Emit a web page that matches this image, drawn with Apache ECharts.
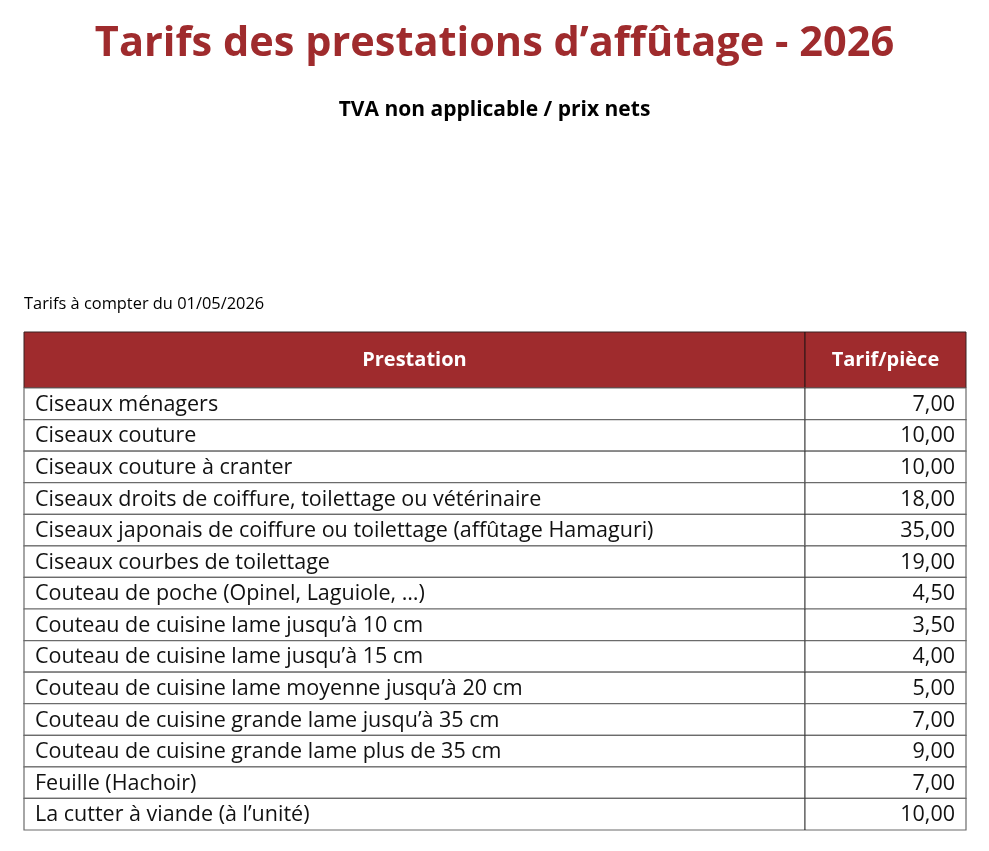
<!DOCTYPE html>
<html>
<head>
<meta charset="utf-8">
<title>Tarifs des prestations d'affûtage - 2026</title>
<script src="https://cdn.jsdelivr.net/npm/echarts@6/dist/echarts.min.js"></script>
<style>
  html, body { margin: 0; padding: 0; background: #fff; }
  #tarifs { width: 989px; height: 851px; }
</style>
</head>
<body>
<div id="tarifs"></div>
<script>
// données du tableau
var colonnes = ['Prestation', 'Tarif/pièce'];
var prestations = [
    'Ciseaux ménagers',
    'Ciseaux couture',
    'Ciseaux couture à cranter',
    'Ciseaux droits de coiffure, toilettage ou vétérinaire',
    'Ciseaux japonais de coiffure ou toilettage (affûtage Hamaguri)',
    'Ciseaux courbes de toilettage',
    'Couteau de poche (Opinel, Laguiole, …)',
    'Couteau de cuisine lame jusqu’à 10 cm',
    'Couteau de cuisine lame jusqu’à 15 cm',
    'Couteau de cuisine lame moyenne jusqu’à 20 cm',
    'Couteau de cuisine grande lame jusqu’à 35 cm',
    'Couteau de cuisine grande lame plus de 35 cm',
    'Feuille (Hachoir)',
    'La cutter à viande (à l’unité)'
];
var tarifs = [7, 10, 10, 18, 35, 19, 4.5, 3.5, 4, 5, 7, 9, 7, 10];

var FONT = '"Open Sans"';
var ROUGE = '#9f2b2d';
var SPLIT = 0.829; // limite entre les deux colonnes (part de la largeur)

function prix(v) {
    return v.toFixed(2).replace('.', ',');
}

function renderHeader(params, api) {
    var p0 = api.coord([0, 0]);
    var h = api.size([0, 1])[1];
    var x0 = api.coord([0, 0])[0];
    var xs = api.coord([SPLIT, 0])[0];
    var x1 = api.coord([1, 0])[0];
    var top = p0[1] - h / 2;
    return {
        type: 'group',
        children: [
            { type: 'rect', shape: { x: x0, y: top, width: x1 - x0, height: h },
              style: { fill: ROUGE, stroke: '#3a2222', lineWidth: 1 } },
            { type: 'line', shape: { x1: xs, y1: top, x2: xs, y2: top + h },
              style: { stroke: '#111', lineWidth: 1 } },
            { type: 'text', x: (x0 + xs) / 2, y: p0[1],
              style: { text: colonnes[0], fill: '#fff', font: 'bold 20px ' + FONT, align: 'center', verticalAlign: 'middle' } },
            { type: 'text', x: (xs + x1) / 2, y: p0[1],
              style: { text: colonnes[1], fill: '#fff', font: 'bold 20px ' + FONT, align: 'center', verticalAlign: 'middle' } }
        ]
    };
}

function renderRow(params, api) {
    var i = api.value(0);
    var c = api.coord([0, i]);
    var h = api.size([0, 1])[1];
    var x0 = c[0];
    var xs = api.coord([SPLIT, i])[0];
    var x1 = api.coord([1, i])[0];
    var top = c[1] - h / 2;
    return {
        type: 'group',
        children: [
            { type: 'rect', shape: { x: x0, y: top, width: x1 - x0, height: h },
              style: { fill: '#fff', stroke: '#6b6b6b', lineWidth: 1.2 } },
            { type: 'line', shape: { x1: xs, y1: top, x2: xs, y2: top + h },
              style: { stroke: '#111', lineWidth: 1 } },
            { type: 'text', x: x0 + 11, y: c[1] + 1,
              style: { text: prestations[i], fill: '#111', font: '21.5px ' + FONT, align: 'left', verticalAlign: 'middle' } },
            { type: 'text', x: x1 - 11, y: c[1] + 1,
              style: { text: prix(tarifs[i]), fill: '#111', font: '21.5px ' + FONT, align: 'right', verticalAlign: 'middle' } }
        ]
    };
}

var chart = echarts.init(document.getElementById('tarifs'));

var option = {
    backgroundColor: '#fff',
    animation: false,
    title: [
        { text: 'Tarifs des prestations d’affûtage - 2026', left: 'center', top: 18,
          textStyle: { color: ROUGE, fontFamily: FONT, fontWeight: 'bold', fontSize: 41.5 } },
        { text: 'TVA non applicable / prix nets', left: 'center', top: 95,
          textStyle: { color: '#000', fontFamily: FONT, fontWeight: 'bold', fontSize: 21 } },
        { text: 'Tarifs à compter du 01/05/2026', left: 19, top: 291,
          textStyle: { color: '#000', fontFamily: FONT, fontWeight: 'normal', fontSize: 16.4 } }
    ],
    grid: [
        { left: 24, right: 23, top: 332, height: 56 },
        { left: 24, right: 23, top: 388, bottom: 21 }
    ],
    xAxis: [
        { type: 'value', gridIndex: 0, min: 0, max: 1, show: false },
        { type: 'value', gridIndex: 1, min: 0, max: 1, show: false }
    ],
    yAxis: [
        { type: 'category', gridIndex: 0, data: ['entete'], show: false },
        { type: 'category', gridIndex: 1, data: prestations, inverse: true, show: false }
    ],
    series: [
        { type: 'custom', xAxisIndex: 0, yAxisIndex: 0, renderItem: renderHeader,
          data: [[0]], silent: true },
        { type: 'custom', xAxisIndex: 1, yAxisIndex: 1, renderItem: renderRow,
          data: prestations.map(function (p, i) { return [i]; }), silent: true }
    ]
};

chart.setOption(option);
</script>
</body>
</html>
